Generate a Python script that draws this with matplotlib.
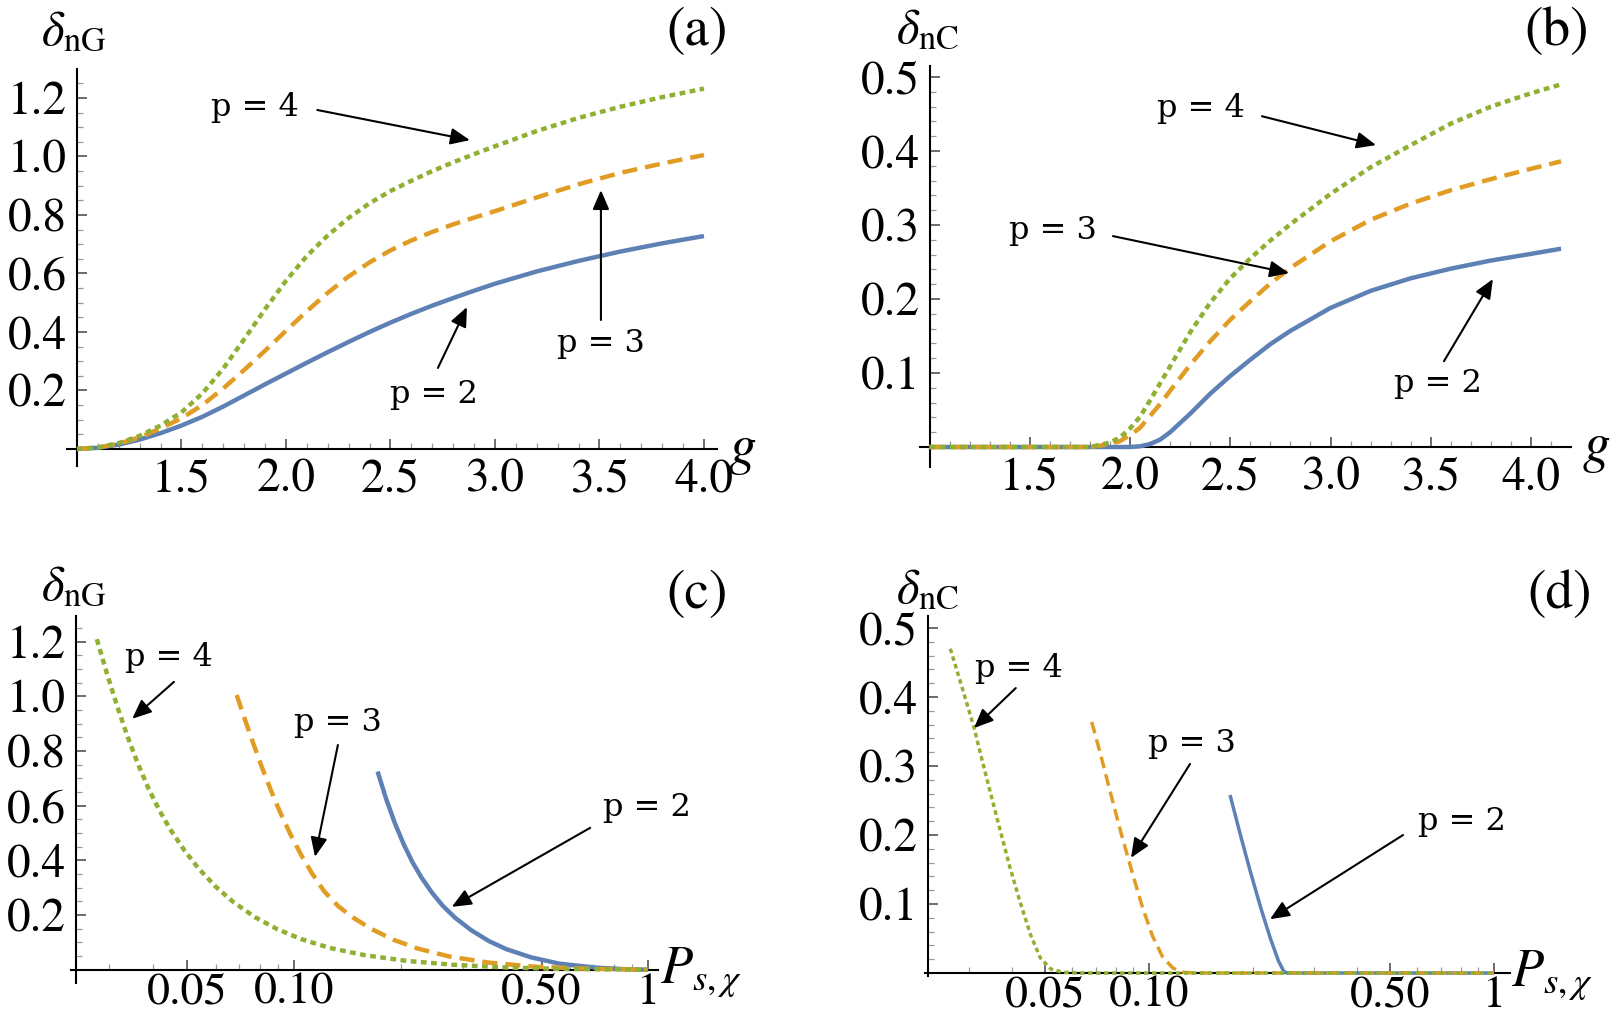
import numpy as np
import matplotlib
matplotlib.use('Agg')
import matplotlib.pyplot as plt
from matplotlib.ticker import FixedLocator, FixedFormatter

plt.rcParams['font.family'] = ['STIXGeneral', 'DejaVu Serif']
plt.rcParams['mathtext.fontset'] = 'stix'

BLUE = '#5E81B5'
ORANGE = '#E19C24'
GREEN = '#8FB032'

# ---- panel (a): delta_nG vs g
g_a = [1.0, 1.1, 1.2, 1.3, 1.4, 1.5, 1.6, 1.7, 1.8, 1.9, 2.0, 2.1, 2.2, 2.3, 2.4,
       2.5, 2.6, 2.7, 2.8, 2.9, 3.0, 3.2, 3.4, 3.6, 3.8, 4.0]
nG_p2 = [0.0, 0.004, 0.015, 0.032, 0.054, 0.080, 0.110, 0.145, 0.183, 0.221, 0.258,
         0.295, 0.331, 0.366, 0.400, 0.432, 0.462, 0.490, 0.516, 0.541, 0.565,
         0.607, 0.643, 0.675, 0.703, 0.728]
nG_p3 = [0.0, 0.005, 0.018, 0.040, 0.070, 0.105, 0.150, 0.207, 0.270, 0.336, 0.404,
         0.471, 0.534, 0.590, 0.638, 0.679, 0.713, 0.742, 0.768, 0.791, 0.813,
         0.860, 0.905, 0.944, 0.976, 1.005]
nG_p4 = [0.0, 0.005, 0.020, 0.045, 0.080, 0.125, 0.190, 0.275, 0.375, 0.478, 0.575,
         0.660, 0.730, 0.790, 0.840, 0.882, 0.917, 0.950, 0.980, 1.008, 1.035,
         1.087, 1.132, 1.170, 1.203, 1.232]

# ---- panel (b): delta_nC vs g
g_b = [1.0, 1.8, 1.9, 1.95, 2.0, 2.05, 2.1, 2.15, 2.2, 2.3, 2.4, 2.5, 2.6, 2.7,
       2.8, 3.0, 3.2, 3.4, 3.6, 3.8, 4.0, 4.15]
nC_p2 = [0.0, 0.0, 0.0, 0.0, 0.0, 0.001, 0.004, 0.010, 0.020, 0.045, 0.072, 0.096,
         0.118, 0.139, 0.157, 0.188, 0.211, 0.228, 0.241, 0.252, 0.261, 0.268]
nC_p3 = [0.0, 0.0, 0.004, 0.008, 0.016, 0.026, 0.042, 0.058, 0.076, 0.111, 0.143,
         0.172, 0.197, 0.221, 0.242, 0.278, 0.307, 0.329, 0.347, 0.362, 0.376, 0.386]
nC_p4 = [0.0, 0.0, 0.006, 0.013, 0.025, 0.041, 0.063, 0.086, 0.109, 0.155, 0.195,
         0.228, 0.255, 0.279, 0.301, 0.342, 0.378, 0.408, 0.437, 0.460, 0.478, 0.490]

# ---- panel (c): delta_nG vs P_s,chi (log axis)
Pc_p4 = [0.02773, 0.02951, 0.03162, 0.03388, 0.03631, 0.03890, 0.04169, 0.04467,
         0.04898, 0.05370, 0.06026, 0.06761, 0.07762, 0.08913, 0.1047, 0.1259,
         0.1585, 0.2089, 0.2818, 0.3981, 0.5623, 1.0]
nGc_p4 = [1.209, 1.090, 0.966, 0.852, 0.750, 0.660, 0.582, 0.514, 0.437, 0.371,
          0.302, 0.246, 0.192, 0.150, 0.112, 0.080, 0.053, 0.032, 0.018, 0.008,
          0.003, 0.0]
Pc_p3 = [0.06887, 0.07244, 0.07674, 0.08128, 0.08610, 0.09120, 0.09772, 0.1047,
         0.1122, 0.1216, 0.1334, 0.1479, 0.1660, 0.1905, 0.2239, 0.2754, 0.3548,
         0.4786, 0.6607, 1.0]
nGc_p3 = [1.005, 0.920, 0.827, 0.738, 0.655, 0.578, 0.495, 0.420, 0.354, 0.287,
          0.232, 0.188, 0.148, 0.110, 0.077, 0.048, 0.026, 0.011, 0.004, 0.0]
Pc_p2 = [0.1722, 0.1820, 0.1928, 0.2042, 0.2163, 0.2291, 0.2455, 0.2630, 0.2851,
         0.3162, 0.3548, 0.3981, 0.4677, 0.5623, 0.7079, 0.8511, 1.0]
nGc_p2 = [0.725, 0.625, 0.535, 0.458, 0.392, 0.337, 0.281, 0.234, 0.190, 0.145,
          0.105, 0.075, 0.045, 0.022, 0.008, 0.002, 0.0]

# ---- panel (d): delta_nC vs P_s,chi (log axis)
Pd_p4 = [0.02655, 0.02793, 0.02944, 0.03105, 0.03266, 0.03443, 0.03690, 0.03954,
         0.04236, 0.04539, 0.04842, 0.05188, 0.05623, 0.0631, 1.0]
nCd_p4 = [0.470, 0.434, 0.396, 0.357, 0.313, 0.268, 0.210, 0.153, 0.102, 0.055,
          0.022, 0.006, 0.001, 0.0, 0.0]
Pd_p3 = [0.06823, 0.07228, 0.07762, 0.08299, 0.08913, 0.09550, 0.1023, 0.1096,
         0.1175, 0.1259, 0.138, 1.0]
nCd_p3 = [0.364, 0.318, 0.258, 0.203, 0.148, 0.097, 0.054, 0.023, 0.007, 0.001,
          0.0, 0.0]
Pd_p2 = [0.1718, 0.1841, 0.1972, 0.2113, 0.2249, 0.2371, 0.2455, 0.2512, 1.0]
nCd_p2 = [0.258, 0.200, 0.145, 0.093, 0.050, 0.018, 0.003, 0.0, 0.0]

W, H = 1610, 1021
fig = plt.figure(figsize=(W / 100, H / 100), dpi=100)


def px_axes(l, t, r, b):
    return fig.add_axes([l / W, 1 - b / H, (r - l) / W, (b - t) / H])


def style_axes(ax, x0):
    for s in ('top', 'right'):
        ax.spines[s].set_visible(False)
    ax.spines['left'].set_position(('data', x0))
    ax.spines['bottom'].set_position(('data', 0))
    for s in ('left', 'bottom'):
        ax.spines[s].set_linewidth(1.5)
    ax.tick_params(which='both', direction='in', labelsize=34, pad=7)
    ax.tick_params(which='major', length=7, width=1.1, color='#444444')
    ax.tick_params(which='minor', length=4, width=0.9, color='#999999')
    ax.patch.set_visible(False)


def curves(ax, xs, ys, lw):
    ax.plot(xs[0], ys[0], color=BLUE, lw=lw, zorder=3, solid_capstyle='butt')
    ax.plot(xs[1], ys[1], color=ORANGE, lw=lw, dashes=(3.4, 1.8), zorder=3,
            dash_capstyle='butt')
    ax.plot(xs[2], ys[2], color=GREEN, lw=lw, dashes=(1.3, 1.0), zorder=3,
            dash_capstyle='butt')


def note(ax, text, txy, tail, head):
    ax.text(txy[0], txy[1], text, fontsize=23, family='DejaVu Serif',
            ha='center', va='center')
    ax.annotate('', xy=head, xytext=tail,
                arrowprops=dict(arrowstyle='-|>,head_length=0.65,head_width=0.28',
                                color='black', lw=1.5, mutation_scale=18,
                                shrinkA=0, shrinkB=0))


def y_ticks(ax, major, minor, fmt):
    ax.yaxis.set_major_locator(FixedLocator(major))
    ax.yaxis.set_major_formatter(FixedFormatter([fmt % v for v in major]))
    ax.yaxis.set_minor_locator(FixedLocator(minor))


# (a)
axa = px_axes(66.5, 68.75, 716.5, 466.5)
axa.set_xlim(0.95, 4.06)
axa.set_ylim(-0.06, 1.30)
style_axes(axa, 1.0)
curves(axa, [g_a, g_a, g_a], [nG_p2, nG_p3, nG_p4], 3.2)
axa.xaxis.set_major_locator(FixedLocator([1.5, 2.0, 2.5, 3.0, 3.5, 4.0]))
axa.xaxis.set_major_formatter(FixedFormatter(['1.5', '2.0', '2.5', '3.0', '3.5', '4.0']))
axa.xaxis.set_minor_locator(FixedLocator(np.arange(1.1, 4.05, 0.1)))
y_ticks(axa, [0.2, 0.4, 0.6, 0.8, 1.0, 1.2], np.arange(0.05, 1.29, 0.05), '%.1f')
note(axa, 'p = 4', (1.85, 1.166), (2.15, 1.159), (2.88, 1.056))
note(axa, 'p = 3', (3.507, 0.359), (3.507, 0.441), (3.507, 0.885))
note(axa, 'p = 2', (2.708, 0.185), (2.727, 0.277), (2.866, 0.485))
axa.text(4.115, -0.01, '$g$', fontsize=40, ha='left', va='center', clip_on=False)

# (b)
axb = px_axes(919.5, 65.9, 1571.1, 467.0)
axb.set_xlim(0.95, 4.2)
axb.set_ylim(-0.027, 0.515)
style_axes(axb, 1.0)
curves(axb, [g_b, g_b, g_b], [nC_p2, nC_p3, nC_p4], 3.2)
axb.xaxis.set_major_locator(FixedLocator([1.5, 2.0, 2.5, 3.0, 3.5, 4.0]))
axb.xaxis.set_major_formatter(FixedFormatter(['1.5', '2.0', '2.5', '3.0', '3.5', '4.0']))
axb.xaxis.set_minor_locator(FixedLocator(np.arange(1.1, 4.2, 0.1)))
y_ticks(axb, [0.1, 0.2, 0.3, 0.4, 0.5], np.arange(0.02, 0.51, 0.02), '%.1f')
note(axb, 'p = 4', (2.354, 0.458), (2.658, 0.447), (3.227, 0.408))
note(axb, 'p = 3', (1.616, 0.292), (1.915, 0.285), (2.793, 0.235))
note(axb, 'p = 2', (3.536, 0.0865), (3.566, 0.116), (3.81, 0.227))
axb.text(4.254, -0.003, '$g$', fontsize=40, ha='left', va='center', clip_on=False)

log_ticks = [0.05, 0.1, 0.5, 1.0]
log_labels = ['0.05', '0.10', '0.50', '1']
log_minor = [0.03, 0.04, 0.06, 0.07, 0.08, 0.09, 0.2, 0.3, 0.4, 0.6, 0.7, 0.8, 0.9]

# (c)
axc = px_axes(71.0, 616.0, 658.0, 983.1)
axc.set_xscale('log')
axc.set_xlim(10 ** -1.63, 10 ** 0.028)
axc.set_ylim(-0.049, 1.294)
style_axes(axc, 10 ** -1.616)
curves(axc, [Pc_p2, Pc_p3, Pc_p4], [nGc_p2, nGc_p3, nGc_p4], 3.2)
axc.xaxis.set_major_locator(FixedLocator(log_ticks))
axc.xaxis.set_major_formatter(FixedFormatter(log_labels))
axc.xaxis.set_minor_locator(FixedLocator(log_minor))
axc.xaxis.set_minor_formatter(FixedFormatter([''] * len(log_minor)))
axc.tick_params(axis='x', labelsize=33, pad=2)
y_ticks(axc, [0.2, 0.4, 0.6, 0.8, 1.0, 1.2], np.arange(0.05, 1.29, 0.05), '%.1f')
note(axc, 'p = 4', (0.0443, 1.144), (0.0458, 1.053), (0.0349, 0.918))
note(axc, 'p = 3', (0.133, 0.903), (0.133, 0.822), (0.1146, 0.413))
note(axc, 'p = 2', (0.994, 0.592), (0.686, 0.519), (0.279, 0.230))
axc.text(1.08, -0.01, r'$P_{s,\chi}$', fontsize=38, ha='left', va='center', clip_on=False)

# (d)
axd = px_axes(924.75, 616.3, 1509.5, 975.8)
axd.set_xscale('log')
axd.set_xlim(10 ** -1.65, 10 ** 0.045)
axd.set_ylim(-0.004, 0.517)
style_axes(axd, 10 ** -1.641)
curves(axd, [Pd_p2, Pd_p3, Pd_p4], [nCd_p2, nCd_p3, nCd_p4], 2.5)
axd.xaxis.set_major_locator(FixedLocator(log_ticks))
axd.xaxis.set_major_formatter(FixedFormatter(log_labels))
axd.xaxis.set_minor_locator(FixedLocator(log_minor))
axd.xaxis.set_minor_formatter(FixedFormatter([''] * len(log_minor)))
axd.tick_params(axis='x', labelsize=33, pad=2)
y_ticks(axd, [0.1, 0.2, 0.3, 0.4, 0.5], np.arange(0.02, 0.51, 0.02), '%.1f')
note(axd, 'p = 4', (0.0420, 0.441), (0.0411, 0.413), (0.0311, 0.355))
note(axd, 'p = 3', (0.1333, 0.333), (0.1315, 0.303), (0.0887, 0.167))
note(axd, 'p = 2', (0.807, 0.219), (0.545, 0.200), (0.2243, 0.078))
axd.text(1.12, -0.003, r'$P_{s,\chi}$', fontsize=38, ha='left', va='center', clip_on=False)

# y-axis names and panel letters
for (x, y, s) in [(74, 33, r'$\delta_{\mathrm{nG}}$'), (927, 31, r'$\delta_{\mathrm{nC}}$'),
                  (74, 588, r'$\delta_{\mathrm{nG}}$'), (927, 591, r'$\delta_{\mathrm{nC}}$')]:
    fig.text(x / W, 1 - y / H, s, fontsize=35, ha='center', va='center')
for (x, y, s) in [(697, 32, '(a)'), (1557, 32, '(b)'), (697, 595, '(c)'), (1560, 595, '(d)')]:
    fig.text(x / W, 1 - y / H, s, fontsize=40, ha='center', va='center')

fig.savefig('out.png', dpi=100)
